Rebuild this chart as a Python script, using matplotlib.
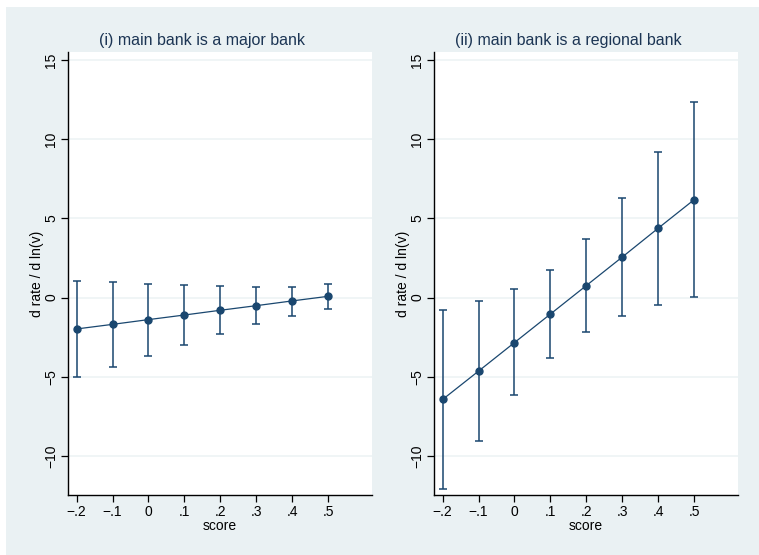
import matplotlib

matplotlib.use("Agg")
import matplotlib.pyplot as plt
from matplotlib.patches import Rectangle

plt.rcParams["font.family"] = ["Liberation Sans", "DejaVu Sans"]

# ---------------------------------------------------------------- data
score = [-0.2, -0.1, 0.0, 0.1, 0.2, 0.3, 0.4, 0.5]

major_est = [-1.98, -1.69, -1.39, -1.10, -0.80, -0.51, -0.21, 0.08]
major_hi = [1.07, 0.96, 0.86, 0.77, 0.71, 0.65, 0.69, 0.88]
major_lo = [-5.03, -4.36, -3.67, -2.97, -2.30, -1.67, -1.14, -0.74]

regional_est = [-6.43, -4.64, -2.84, -1.04, 0.76, 2.56, 4.38, 6.18]
regional_hi = [-0.80, -0.23, 0.55, 1.76, 3.68, 6.29, 9.21, 12.35]
regional_lo = [-12.07, -9.04, -6.17, -3.81, -2.15, -1.14, -0.49, 0.03]

titles = ["(i) main bank is a major bank", "(ii) main bank is a regional bank"]
xticks = [-0.2, -0.1, 0.0, 0.1, 0.2, 0.3, 0.4, 0.5]
xticklabels = ["\u2212.2", "\u2212.1", "0", ".1", ".2", ".3", ".4", ".5"]
yticks = [-10, -5, 0, 5, 10, 15]
yticklabels = ["\u221210", "\u22125", "0", "5", "10", "15"]

NAVY = "#1a476f"
BG = "#eaf1f3"
GRID = "#edf3f5"
TXT = "#1c3554"

W, H = 759, 555
fig = plt.figure(figsize=(W / 100, H / 100), dpi=100, facecolor="white")
fig.patches.append(Rectangle((6 / W, 0), 1 - 6 / W, 1 - 7 / H, transform=fig.transFigure,
                             facecolor=BG, edgecolor="none", zorder=-10))

panels = [
    (68, major_est, major_lo, major_hi, 202),
    (434, regional_est, regional_lo, regional_hi, 568),
]

for (left_px, est, lo, hi, tx), title in zip(panels, titles):
    ax = fig.add_axes([left_px / W, 60 / H, 304 / W, 443 / H])
    ax.set_facecolor("white")
    yerr = [[e - l for e, l in zip(est, lo)], [h - e for e, h in zip(est, hi)]]
    ax.errorbar(score, est, yerr=yerr, fmt="none", ecolor=NAVY, elinewidth=1.1,
                capsize=3, capthick=1.1, zorder=3)
    ax.plot(score, est, "-o", color=NAVY, lw=0.9, ms=5, zorder=4)
    ax.set_xlim(-0.224, 0.622)
    ax.set_ylim(-12.46, 15.5)
    ax.set_xticks(xticks)
    ax.set_xticklabels(xticklabels, fontsize=10)
    ax.set_yticks(yticks)
    ax.set_yticklabels(yticklabels, fontsize=10, rotation=90, va="center")
    ax.grid(axis="y", color=GRID, lw=1.2, zorder=0)
    ax.set_axisbelow(True)
    for s in ["top", "right"]:
        ax.spines[s].set_visible(False)
    for s in ["left", "bottom"]:
        ax.spines[s].set_color("black")
        ax.spines[s].set_linewidth(1.0)
    ax.tick_params(direction="out", length=5, width=0.9, colors="black", pad=2)
    ax.set_xlabel("score", fontsize=10, labelpad=0)
    ax.set_ylabel("d rate / d ln(v)", fontsize=10, labelpad=0)
    fig.text(tx / W, 1 - 41 / H, title, ha="center", va="center", fontsize=11.5, color=TXT)

fig.savefig("out.png", dpi=100, facecolor=fig.get_facecolor())
